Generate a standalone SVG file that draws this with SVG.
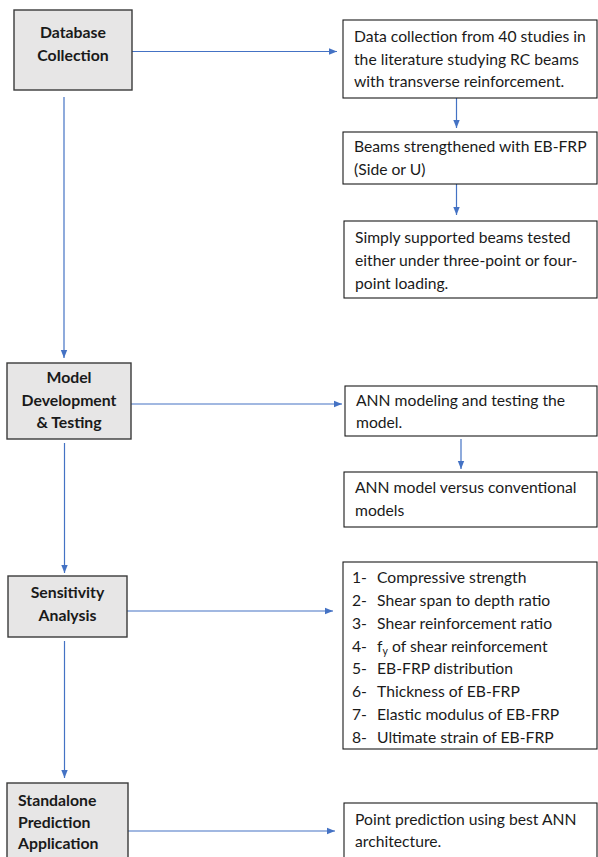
<svg xmlns="http://www.w3.org/2000/svg" width="598" height="857" viewBox="0 0 598 857">
<style>
.main{fill:#e7e6e6;stroke:#3a3a3a;stroke-width:1.4}
.sub{fill:#ffffff;stroke:#1a1a1a;stroke-width:1.1}
.ht{font-family:Lato,"Liberation Sans",sans-serif;font-weight:bold;font-size:15.8px;fill:#1a1a1a}
.t{font-family:Lato,"Liberation Sans",sans-serif;font-size:15.7px;fill:#1a1a1a}
.c{fill:none;stroke:#4472c4;stroke-width:1.2}
</style>
<defs>
<marker id="ah" markerUnits="userSpaceOnUse" markerWidth="8" markerHeight="8" viewBox="0 0 10 10" refX="10" refY="5" orient="auto">
<path d="M0,1 L10,5 L0,9 z" fill="#4472c4"/>
</marker>
</defs>
<rect width="598" height="857" fill="#ffffff"/>
<g id="connectors">
<line class="c" x1="132" y1="51.5" x2="337" y2="51.5" marker-end="url(#ah)"/>
<line class="c" x1="456.5" y1="98" x2="456.5" y2="128" marker-end="url(#ah)"/>
<line class="c" x1="456.5" y1="184" x2="456.5" y2="215" marker-end="url(#ah)"/>
<line class="c" x1="64" y1="97" x2="64" y2="358" marker-end="url(#ah)"/>
<line class="c" x1="131" y1="404" x2="342" y2="404" marker-end="url(#ah)"/>
<line class="c" x1="461" y1="439" x2="461" y2="469" marker-end="url(#ah)"/>
<line class="c" x1="64.5" y1="443" x2="64.5" y2="573" marker-end="url(#ah)"/>
<line class="c" x1="127" y1="611" x2="333" y2="611" marker-end="url(#ah)"/>
<line class="c" x1="64.5" y1="641" x2="64.5" y2="778" marker-end="url(#ah)"/>
<line class="c" x1="128" y1="831" x2="335" y2="831" marker-end="url(#ah)"/>
</g>
<g id="database-collection">
<rect class="main" x="14" y="10" width="118" height="80"/>
<text class="ht" x="73" y="38" text-anchor="middle">Database</text>
<text class="ht" x="73" y="61" text-anchor="middle">Collection</text>
</g>
<g id="data-collection">
<rect class="sub" x="343" y="20" width="254" height="78"/>
<text class="t" x="354" y="42">Data collection from 40 studies in</text>
<text class="t" x="354" y="64.5">the literature studying RC beams</text>
<text class="t" x="354" y="87">with transverse reinforcement.</text>
</g>
<g id="beams-strengthened">
<rect class="sub" x="343" y="132" width="254" height="52"/>
<text class="t" x="354" y="152">Beams strengthened with EB-FRP</text>
<text class="t" x="354" y="175">(Side or U)</text>
</g>
<g id="simply-supported">
<rect class="sub" x="344" y="221" width="253" height="77"/>
<text class="t" x="355" y="243">Simply supported beams tested</text>
<text class="t" x="355" y="266">either under three-point or four-</text>
<text class="t" x="355" y="289">point loading.</text>
</g>
<g id="model-development">
<rect class="main" x="7" y="363" width="124" height="76"/>
<text class="ht" x="69" y="383" text-anchor="middle">Model</text>
<text class="ht" x="69" y="406" text-anchor="middle">Development</text>
<text class="ht" x="69" y="428" text-anchor="middle">&amp; Testing</text>
</g>
<g id="ann-modeling">
<rect class="sub" x="345" y="386" width="252" height="50"/>
<text class="t" x="356" y="406">ANN modeling and testing the</text>
<text class="t" x="356" y="428">model.</text>
</g>
<g id="ann-vs-conventional">
<rect class="sub" x="344" y="472" width="253" height="55"/>
<text class="t" x="355" y="493">ANN model versus conventional</text>
<text class="t" x="355" y="516">models</text>
</g>
<g id="sensitivity-analysis">
<rect class="main" x="8" y="576" width="119" height="61"/>
<text class="ht" x="67.5" y="598" text-anchor="middle">Sensitivity</text>
<text class="ht" x="67.5" y="621" text-anchor="middle">Analysis</text>
</g>
<g id="parameters">
<rect class="sub" x="343" y="562" width="254" height="187"/>
<text class="t" x="352" y="583">1-</text><text class="t" x="377" y="583">Compressive strength</text>
<text class="t" x="352" y="606">2-</text><text class="t" x="377" y="606">Shear span to depth ratio</text>
<text class="t" x="352" y="629">3-</text><text class="t" x="377" y="629">Shear reinforcement ratio</text>
<text class="t" x="352" y="652">4-</text><text class="t" x="377" y="652">f<tspan font-size="10.5" dy="3">y</tspan><tspan dy="-3"> of shear reinforcement</tspan></text>
<text class="t" x="352" y="674">5-</text><text class="t" x="377" y="674">EB-FRP distribution</text>
<text class="t" x="352" y="697">6-</text><text class="t" x="377" y="697">Thickness of EB-FRP</text>
<text class="t" x="352" y="720">7-</text><text class="t" x="377" y="720">Elastic modulus of EB-FRP</text>
<text class="t" x="352" y="743">8-</text><text class="t" x="377" y="743">Ultimate strain of EB-FRP</text>
</g>
<g id="standalone-application">
<rect class="main" x="7" y="783" width="121" height="90"/>
<text class="ht" x="18" y="806">Standalone</text>
<text class="ht" x="18" y="828">Prediction</text>
<text class="ht" x="18" y="849">Application</text>
</g>
<g id="point-prediction">
<rect class="sub" x="344" y="803" width="253" height="70"/>
<text class="t" x="355" y="825">Point prediction using best ANN</text>
<text class="t" x="355" y="847">architecture.</text>
</g>
</svg>
